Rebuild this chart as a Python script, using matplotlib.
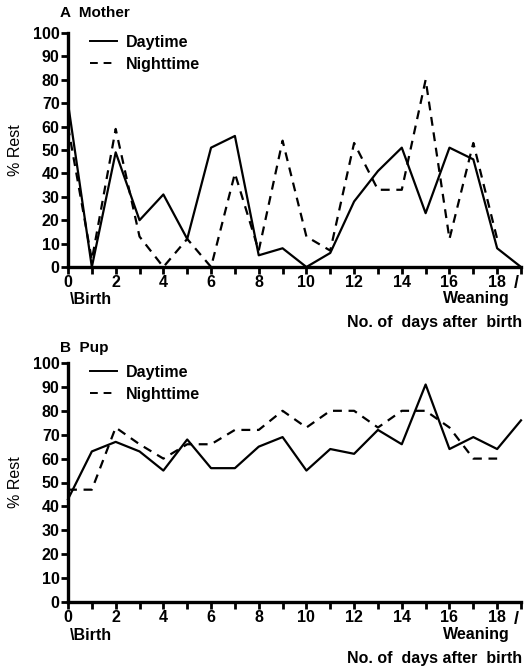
import matplotlib
matplotlib.use("Agg")
import matplotlib.pyplot as plt

days = list(range(20))

# A: mother, % rest
mother_day = [70, 0, 49, 20, 31, 12, 51, 56, 5, 8, 0, 6, 28, 41, 51, 23, 51, 46, 8, 0]
mother_night = [60, 3, 59, 13, 0, 12, 0, 40, 7, 54, 13, 7, 53, 33, 33, 80, 12, 53, 12]

# B: pup, % rest
pup_day = [43, 63, 67, 63, 55, 68, 56, 56, 65, 69, 55, 64, 62, 72, 66, 91, 64, 69, 64, 76]
pup_night = [47, 47, 73, 66, 60, 66, 66, 72, 72, 80, 73, 80, 80, 73, 80, 80, 73, 60, 60]

yticks = list(range(0, 101, 10))
xlabels = [str(d) if d % 2 == 0 and d < 19 else "" for d in days]

plt.rcParams['font.family'] = ['Liberation Sans', 'DejaVu Sans']
plt.rcParams['font.weight'] = 'bold'

fig = plt.figure(figsize=(5.25, 6.69), dpi=100)
W, H = 525.0, 669.0


def panel(top, bottom, title, dvals, nvals, lab_y, name_y):
    ax = fig.add_axes([68 / W, 1 - bottom / H, (521 - 68) / W, (bottom - top) / H])
    ax.plot(days[:len(dvals)], dvals, color='k', lw=1.6, clip_on=False,
            label='Daytime')
    ax.plot(days[:len(nvals)], nvals, color='k', lw=1.6, ls=(0, (4, 3)),
            clip_on=False, label='Nighttime')
    ax.set_xlim(0, 19)
    ax.set_ylim(0, 100)
    ax.set_xticks(days)
    ax.set_xticklabels(xlabels)
    ax.set_yticks(yticks)
    for s in ['top', 'right']:
        ax.spines[s].set_visible(False)
    for s in ['left', 'bottom']:
        ax.spines[s].set_linewidth(2.4)
    ax.tick_params(axis='both', width=2, length=5, labelsize=11.5, pad=1)
    ax.set_ylabel('% Rest', fontsize=11.5)
    ax.yaxis.set_label_coords(-0.10, 0.5)
    leg = ax.legend(loc='upper left', frameon=False, fontsize=11.5,
                    handlelength=1.7, handletextpad=0.55, labelspacing=0.45,
                    borderaxespad=0.0, bbox_to_anchor=(0.035, 1.02))
    for h in leg.get_lines():
        h.set_linewidth(1.4)
    fig.text(60 / W, 1 - name_y / H, title, fontsize=11, va='center')
    fig.text(70 / W, 1 - lab_y / H, '\\Birth', fontsize=11.5, va='center',
             ha='left')
    fig.text(510 / W, 1 - (lab_y - 2) / H, 'Weaning', fontsize=11.5,
             va='center', ha='right')
    fig.text(522 / W, 1 - (lab_y + 23) / H, 'No. of  days after  birth',
             fontsize=11.5, va='center', ha='right')
    fig.text(516 / W, 1 - (bottom + 17) / H, '/', fontsize=13,
             va='center', ha='center')
    return ax


panel(33, 267, 'A  Mother', mother_day, mother_night, 300, 13)
panel(363, 602, 'B  Pup', pup_day, pup_night, 636, 348)

fig.savefig('out.png', dpi=100)
